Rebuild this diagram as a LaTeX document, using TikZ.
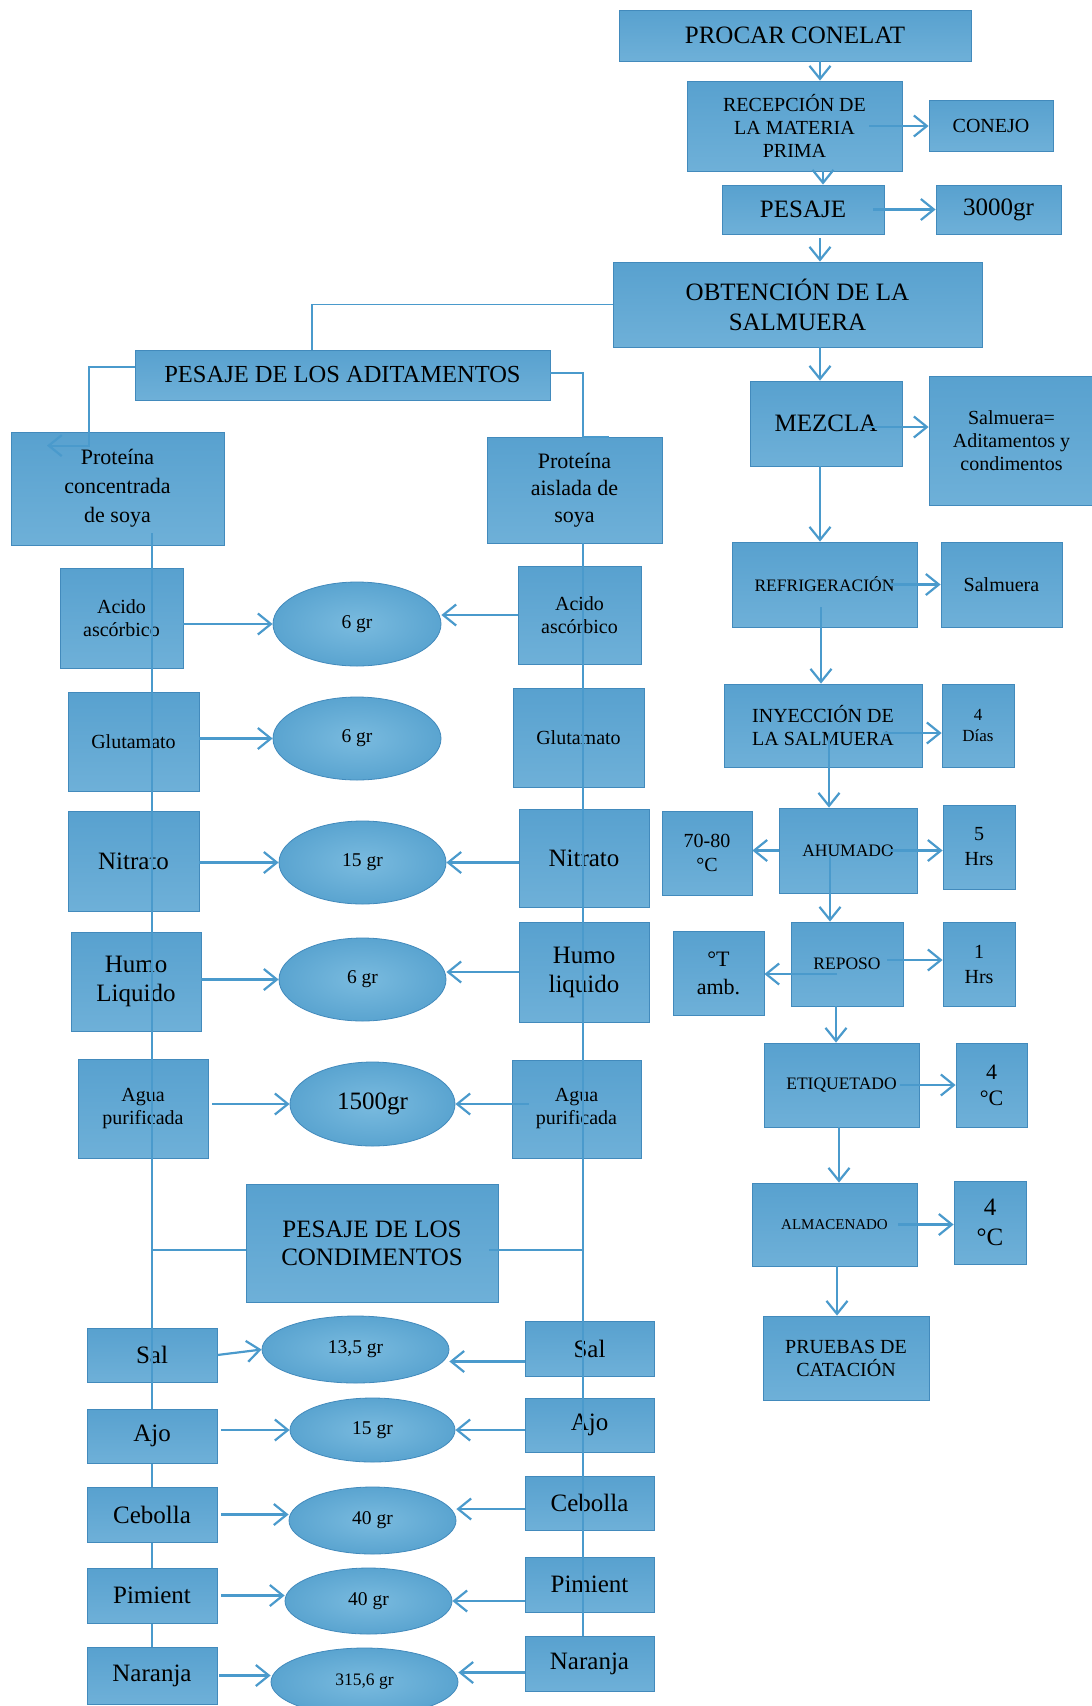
\documentclass[tikz,border=0pt]{standalone}
\usepackage{fontspec}
\setmainfont{Liberation Serif}
\usetikzlibrary{arrows.meta, shapes.geometric}

\definecolor{boxtop}{RGB}{88,161,207}
\definecolor{boxbot}{RGB}{110,176,216}
\definecolor{boxedge}{RGB}{66,138,188}
\definecolor{ovalin}{RGB}{122,187,223}
\definecolor{ovalout}{RGB}{90,164,208}
\definecolor{linkcol}{RGB}{74,154,204}

\begin{document}
\begin{tikzpicture}[
    x=1pt, y=-1pt,
    every node/.style={align=center, text=black, inner sep=2pt},
    stage/.style={draw=boxedge, line width=0.8pt, top color=boxtop, bottom color=boxbot},
    dose/.style={ellipse, draw=boxedge, line width=0.8pt, inner color=ovalin, outer color=ovalout},
    sz/.style 2 args={minimum width=#1pt, minimum height=#2pt},
    big/.style={font=\fontsize{25}{29}\selectfont},
    mid/.style={font=\fontsize{22}{28}\selectfont},
    norm/.style={font=\fontsize{20}{23}\selectfont},
    small/.style={font=\fontsize{19.5}{22}\selectfont},
    tiny/.style={font=\fontsize{17.5}{21}\selectfont},
    arr/.style={draw=linkcol, line width=2.2pt, -{Straight Barb[length=13pt, width=21pt]}},
    link/.style={draw=linkcol, line width=1.8pt}
]
\fill[white] (0,0) rectangle (1092,1706);
\useasboundingbox (0,0) rectangle (1092,1706);

% process column
\node[stage, sz={352}{51}, big]  (procar) at (795,35.5)   {PROCAR CONELAT};
\node[stage, sz={215}{90}, norm] (recep)  at (794.5,126)  {RECEPCIÓN DE\\LA MATERIA\\PRIMA};
\node[stage, sz={124}{51}, norm] (conejo) at (991,125.5)  {CONEJO};
\node[stage, sz={162}{49}, big]  (pesaje) at (803,209.5)  {PESAJE};
\node[stage, sz={125}{49}, big]  (gr3000) at (998.5,209.5) {3000gr};
\node[stage, sz={369}{85}, big, font=\fontsize{25}{30}\selectfont] (obten) at (797.5,304.5) {OBTENCIÓN DE LA\\SALMUERA};
\node[stage, sz={152}{85}, big]  (mezcla) at (826,423.5)  {MEZCLA};
\node[stage, sz={165}{129}, norm] (salmeq) at (1011.5,440.5) {Salmuera=\\Aditamentos y\\condimentos};
\node[stage, sz={185}{85}, tiny] (refrig) at (824.5,584.5) {REFRIGERACIÓN};
\node[stage, sz={121}{85}, norm] (salm)   at (1001.5,584.5) {Salmuera};
\node[stage, sz={198}{83}, norm] (inyec)  at (823,725.5)  {INYECCIÓN DE\\LA SALMUERA};
\node[stage, sz={72}{83}, font=\fontsize{17}{21}\selectfont] (dias) at (978,725.5) {4\\Días};
\node[stage, sz={138}{85}, tiny] (ahum)   at (848,850.5)  {AHUMADO};
\node[stage, sz={90}{84}, font=\fontsize{20}{24}\selectfont] (t7080) at (707,853) {70-80\\°C};
\node[stage, sz={72}{84}, font=\fontsize{20}{25}\selectfont] (hrs5) at (979,847) {5\\Hrs};
\node[stage, sz={112}{84}, tiny] (reposo) at (847,964)    {REPOSO};
\node[stage, sz={91}{84}, mid]   (tamb)   at (718.5,973)  {°T\\amb.};
\node[stage, sz={72}{84}, font=\fontsize{20}{25}\selectfont] (hrs1) at (979,964) {1\\Hrs};
\node[stage, sz={155}{84}, tiny] (etiq)   at (841.5,1085) {ETIQUETADO};
\node[stage, sz={71}{84}, font=\fontsize{22}{26}\selectfont] (grad1) at (991.5,1085) {4\\°C};
\node[stage, sz={165}{83}, font=\fontsize{15}{18}\selectfont] (almac) at (834.5,1224.5) {ALMACENADO};
\node[stage, sz={72}{83}, font=\fontsize{25}{30}\selectfont] (grad2) at (990,1222.5) {4\\°C};
\node[stage, sz={166}{84}, norm] (pruebas) at (846,1358)  {PRUEBAS DE\\CATACIÓN};

% aditamentos
\node[stage, sz={415}{50}, font=\fontsize{24.5}{28}\selectfont] (adit) at (342.5,375) {PESAJE DE LOS ADITAMENTOS};
\node[stage, sz={213}{113}, font=\fontsize{22}{29}\selectfont] (protc) at (117.5,488.5) {Proteína\\concentrada\\de soya};
\node[stage, sz={175}{106}, font=\fontsize{22}{27}\selectfont] (prota) at (574.5,490) {Proteína\\aislada de\\soya};
\node[stage, sz={123}{100}, norm] (acidoL) at (121.5,618) {Acido\\ascórbico};
\node[dose,  sz={168}{84}, small] (ox1)    at (357,624)    {6 gr};
\node[stage, sz={123}{98}, norm]  (acidoR) at (579.5,615)  {Acido\\ascórbico};
\node[stage, sz={131}{99}, norm]  (glutL)  at (133.5,741.5) {Glutamato};
\node[dose,  sz={168}{83}, small] (ox2)    at (357,738.5)  {6 gr};
\node[stage, sz={131}{99}, norm]  (glutR)  at (578.5,737.5) {Glutamato};
\node[stage, sz={131}{100}, big]  (nitL)   at (133.5,861)  {Nitrato};
\node[dose,  sz={167}{83}, small] (ox3)    at (362.5,862.5) {15 gr};
\node[stage, sz={130}{98}, big]   (nitR)   at (584,858)    {Nitrato};
\node[stage, sz={130}{99}, big]   (humoL)  at (136,981.5)  {Humo\\Liquido};
\node[dose,  sz={167}{83}, small] (ox4)    at (362.5,979.5) {6 gr};
\node[stage, sz={130}{100}, big]  (humoR)  at (584,972)    {Humo\\liquido};
\node[stage, sz={130}{99}, norm]  (aguaL)  at (143,1108.5) {Agua\\purificada};
\node[dose,  sz={165}{84}, big]   (ox5)    at (372.5,1104) {1500gr};
\node[stage, sz={129}{98}, norm]  (aguaR)  at (576.5,1109) {Agua\\purificada};

% condimentos
\node[stage, sz={252}{118}, font=\fontsize{25}{28}\selectfont] (cond) at (372,1243) {PESAJE DE LOS\\CONDIMENTOS};
\node[stage, sz={130}{54}, big]  (salL)  at (152,1355)    {Sal};
\node[dose,  sz={187}{67}, small] (ox6)  at (355.5,1349.5) {13,5 gr};
\node[stage, sz={129}{55}, big]  (salR)  at (589.5,1348.5) {Sal};
\node[dose,  sz={165}{64}, small] (ox7)  at (372.5,1430)  {15 gr};
\node[stage, sz={129}{54}, big]  (ajoR)  at (589.5,1425)  {Ajo};
\node[dose,  sz={167}{67}, small] (ox8)  at (372.5,1520.5) {40 gr};
\node[stage, sz={129}{54}, big]  (cebR)  at (589.5,1503)  {Cebolla};
\node[dose,  sz={167}{66}, small] (ox9)  at (368.5,1601)  {40 gr};
\node[stage, sz={129}{55}, big]  (pimR)  at (589.5,1584.5) {Pimient};
\node[dose,  sz={187}{68}, font=\fontsize{17.5}{21}\selectfont] (ox10) at (364.5,1682) {315,6 gr};
\node[stage, sz={129}{55}, big]  (narR)  at (589.5,1663.5) {Naranja};

% spines
\coordinate (ltop) at ([xshift=34.5pt, yshift=12pt]protc.south);
\coordinate (rtop) at ([xshift=8.5pt]prota.south);
\draw[link] (ltop) -- (ltop |- ox10.north);
\draw[link] (rtop) -- (rtop |- narR.north);

\node[stage, sz={130}{54}, big]  (ajoL)  at (152,1436)    {Ajo};
\node[stage, sz={130}{55}, big]  (cebL)  at (152,1514.5)  {Cebolla};
\node[stage, sz={130}{55}, big]  (pimL)  at (152,1595.5)  {Pimient};
\node[stage, sz={130}{57}, big]  (narL)  at (152,1675.5)  {Naranja};

% start points inside the boxes
\coordinate (mzout) at ([xshift=-35pt,yshift=-3.5pt]mezcla.east);
\coordinate (inout) at ([xshift=-39pt,yshift=-7.5pt]inyec.east);
\coordinate (ahout) at ([xshift=-27pt]ahum.east);
\coordinate (rpleft) at ([xshift=-10pt,yshift=-10pt]reposo.center);
\coordinate (rpright) at ([xshift=-16pt,yshift=4pt]reposo.east);
\coordinate (alout) at ([xshift=-19pt]almac.east);

% main column arrows
\draw[arr] ([xshift=25pt]procar.south) -- ([xshift=25pt]procar.south |- recep.north);
\draw[arr] ([xshift=-33pt]recep.east) -- (recep.east -| conejo.west);
\draw[arr] ([xshift=28.5pt]recep.south) -- ([xshift=28.5pt]recep.south |- pesaje.north);
\draw[arr] ([xshift=-11pt]pesaje.east) -- (gr3000.west);
\draw[arr] ([xshift=17pt,yshift=-4pt]pesaje.south) -- ([xshift=17pt]pesaje.south |- obten.north);
\draw[arr] ([xshift=-6pt]mezcla.north |- obten.south) -- ([xshift=-6pt]mezcla.north);
\draw[arr] (mzout) -- (mzout -| salmeq.west);
\draw[arr] ([xshift=-6pt]mezcla.south) -- ([xshift=-6pt]mezcla.south |- refrig.north);
\draw[arr] ([xshift=-27pt]refrig.east) -- (salm.west);
\draw[arr] ([xshift=-3.5pt,yshift=20pt]refrig.south) -- ([xshift=-3.5pt]refrig.south |- inyec.north);
\draw[arr] (inout) -- (inout -| dias.west);
\draw[arr] ([xshift=6pt,yshift=34pt]inyec.south) -- ([xshift=6pt]inyec.south |- ahum.north);
\draw[arr] (ahum.west) -- (ahum.west -| t7080.east);
\draw[arr] (ahout) -- (ahout -| hrs5.west);
\draw[arr] ([xshift=-18pt,yshift=38pt]ahum.south) -- ([xshift=-18pt]ahum.south |- reposo.north);
\draw[arr] (rpleft) -- (rpleft -| tamb.east);
\draw[arr] (rpright) -- (rpright -| hrs1.west);
\draw[arr] ([xshift=-11pt]reposo.south) -- ([xshift=-11pt]reposo.south |- etiq.north);
\draw[arr] ([xshift=-19pt]etiq.east) -- (grad1.west);
\draw[arr] ([xshift=-2.5pt]etiq.south) -- ([xshift=-2.5pt]etiq.south |- almac.north);
\draw[arr] (alout) -- (alout -| grad2.west);
\draw[arr] ([xshift=2.5pt]almac.south) -- ([xshift=2.5pt]almac.south |- pruebas.north);

% branches
\draw[link] (obten.west) -| ([xshift=-30.5pt]adit.north);
\draw[arr] ([yshift=8pt]adit.west) -| ([xshift=-28.5pt,yshift=-14pt]protc.north) -- ([xshift=-70.5pt,yshift=-14pt]protc.north);
\draw[link] ([yshift=2pt]adit.east) -| ([xshift=8.5pt]prota.north) -- ([xshift=34.5pt]prota.north);
\draw[link] ([yshift=-7pt]cond.west) -- ([yshift=-7pt]cond.west -| ltop);
\draw[link] ([xshift=-9pt,yshift=-7pt]cond.east) -- ([yshift=-7pt]cond.east -| rtop);

% additives
\draw[arr] (acidoL.east |- ox1) -- (ox1.west);
\draw[arr] (acidoR.west) -- (acidoR.west -| ox1.east);
\draw[arr] (glutL.east |- ox2) -- (ox2.west);
\draw[arr] (nitL.east |- ox3) -- (ox3.west);
\draw[arr] (nitR.west |- ox3) -- (ox3.east);
\draw[arr] (humoL.east |- ox4) -- (ox4.west);
\draw[arr] (humoR.west) -- (humoR.west -| ox4.east);
\draw[arr] ([xshift=4pt]aguaL.east |- ox5) -- (ox5.west);
\draw[arr] ([xshift=17pt]aguaR.west |- ox5) -- (ox5.east);

% condiments
\draw[arr] (salL.east) -- (ox6.west);
\draw[arr] ([yshift=-13pt]salR.west) -- ([yshift=-13pt]salR.west -| ox6.east);
\draw[arr] ([xshift=4pt]ajoL.east |- ox7) -- (ox7.west);
\draw[arr] (ajoR.west |- ox7) -- (ox7.east);
\draw[arr] ([xshift=4pt]cebL.east) -- (cebL.east -| ox8.west);
\draw[arr] ([yshift=-6pt]cebR.west) -- ([yshift=-6pt]cebR.west -| ox8.east);
\draw[arr] ([xshift=4pt]pimL.east) -- (pimL.east -| ox9.west);
\draw[arr] (pimR.west |- ox9) -- (ox9.east);
\draw[arr] ([xshift=2pt]narL.east) -- (narL.east -| ox10.west);
\draw[arr] ([yshift=-9pt]narR.west) -- ([yshift=-9pt]narR.west -| ox10.east);
\end{tikzpicture}
\end{document}
